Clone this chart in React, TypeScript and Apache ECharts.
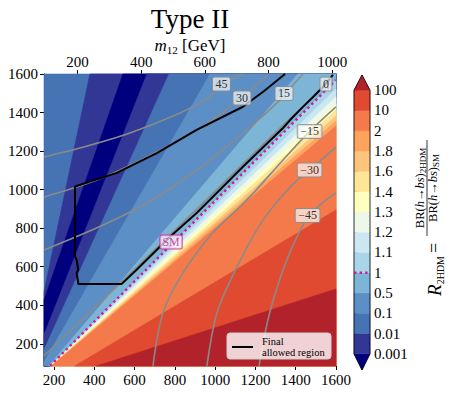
import React, { useEffect, useRef } from 'react';
import * as echarts from 'echarts';

const FONT = '"Liberation Serif", "DejaVu Serif", serif';

// plot ranges
const X_MIN = 150;
const X_MAX = 1600;
const Y_MIN = 85;
const Y_MAX = 1600;
const M12_SCALE = Math.sqrt(0.4); // m12 = m * sqrt(sinb cosb), tanb = 2

const xTicks = [200, 400, 600, 800, 1000, 1200, 1400, 1600];
const yTicks = [200, 400, 600, 800, 1000, 1200, 1400, 1600];
const m12Ticks = [200, 400, 600, 800, 1000];

// colour bar levels and band colours (under, 13 bands, over)
const levelLabels = ['0.001', '0.01', '0.1', '0.5', '1', '1.1', '1.2', '1.3', '1.4', '1.6', '1.8', '2', '10', '100'];
const bandColors = [
  '#00007f', '#323795', '#4573b3', '#5b8fc5', '#7db5d6', '#a8d5e7', '#cbe7f1', '#eef8ea',
  '#ffffbf', '#fee597', '#fdc47d', '#fca35e', '#f47a4b', '#e04a30', '#b2222a',
];

// contour boundaries (straight lines, each given by two points, ordered upper-left -> lower-right)
const boundaryFrom = [
  [150, 470], [150, 428], [150, 247], [150, 169], [150, 107], [135, 39], [135, 39], [135, 39],
  [135, 39], [135, 39], [135, 39], [135, 39], [135, 39], [135, 39], [304, 86], [413, 86],
];
const boundaryTo = [
  [378, 1600], [542, 1600], [661, 1600], [771, 1600], [974, 1600], [1411, 1600], [1600, 1569], [1600, 1522],
  [1600, 1481], [1600, 1444], [1600, 1413], [1600, 1382], [1600, 1356], [1600, 1330], [1600, 895], [1600, 485],
];
// band index of each region (region i lies below/right of boundary i-1)
const regionBand = [2, 1, 0, 1, 2, 3, 4, 5, 6, 7, 8, 9, 10, 11, 12, 13, 14];

// SM line (R = 1)
const smLine = [[180, 86], [1600, 1569]];
const smLabelPos = [781, 729];

// final allowed region boundary
const allowedRegion = [
  [1347, 1600], [1243, 1512], [1138, 1430], [908, 1310], [710, 1190], [511, 1087], [304, 1016],
  [304, 653], [312, 636], [320, 584], [312, 568], [320, 515], [319, 511], [536, 511], [610, 584],
  [776, 756], [908, 879], [1138, 1119], [1337, 1320], [1372, 1361], [1426, 1419], [1486, 1481],
  [1540, 1538], [1585, 1595],
];

// grey contour curves
const contour45 = [[150, 1170], [329, 1216], [577, 1294], [825, 1398], [974, 1481], [1031, 1548], [1084, 1574], [1138, 1600]];
const contour30 = [[150, 962], [413, 1050], [661, 1170], [910, 1310], [1074, 1429], [1133, 1476], [1203, 1543], [1262, 1600]];
const contour15 = [[150, 687], [413, 802], [661, 931], [910, 1102], [1158, 1310], [1307, 1450], [1347, 1496], [1387, 1543], [1436, 1600]];
const contour0 = [[150, 138], [443, 428], [925, 916], [1322, 1320], [1550, 1548], [1585, 1600]];
const contourM15 = [[691, 86], [741, 361], [840, 568], [989, 776], [1158, 947], [1337, 1154], [1469, 1302], [1600, 1429]];
const contourM30 = [[959, 86], [1009, 361], [1108, 599], [1238, 843], [1382, 1024], [1469, 1102], [1600, 1221]];
const contourM45 = [[1218, 86], [1262, 324], [1312, 506], [1372, 677], [1446, 833], [1521, 921], [1600, 983]];
const contourCurves = [contour45, contour30, contour15, contour0, contourM15, contourM30, contourM45];
const contourLabelText = ['45', '30', '15', '0', '\u221215', '\u221230', '\u221245'];
const contourLabelPos = [[1031, 1548], [1133, 1476], [1342, 1499], [1550, 1548], [1469, 1302], [1469, 1102], [1459, 866]];

const MAGENTA = '#d2189c';

function clipHalf(poly: number[][], a: number[], b: number[]): number[][] {
  const f = (p: number[]) => (b[0] - a[0]) * (p[1] - a[1]) - (b[1] - a[1]) * (p[0] - a[0]);
  const out: number[][] = [];
  for (let i = 0; i < poly.length; i++) {
    const p = poly[i];
    const q = poly[(i + 1) % poly.length];
    const fp = f(p);
    const fq = f(q);
    if (fp <= 0) out.push(p);
    if ((fp < 0 && fq > 0) || (fp > 0 && fq < 0)) {
      const t = fp / (fp - fq);
      out.push([p[0] + t * (q[0] - p[0]), p[1] + t * (q[1] - p[1])]);
    }
  }
  return out;
}

function buildOption(): any {
  const axisLineStyle = { color: '#000', width: 1 };
  const labelStyle = { color: '#000', fontFamily: FONT, fontSize: 15, formatter: (v: number) => String(v) };
  const cbIdx = levelLabels.map((_, i) => i);

  const series: any[] = [];

  series.push({
    type: 'custom',
    xAxisIndex: 0,
    yAxisIndex: 0,
    z: 1,
    silent: true,
    data: regionBand.map((b, i) => [X_MIN, Y_MIN, i, b]),
    encode: { x: 0, y: 1 },
    renderItem: (params: any, api: any) => {
      const i = params.dataIndex;
      let poly = [[X_MIN, Y_MIN], [X_MAX, Y_MIN], [X_MAX, Y_MAX], [X_MIN, Y_MAX]];
      if (i > 0) poly = clipHalf(poly, boundaryFrom[i - 1], boundaryTo[i - 1]);
      if (poly.length < 3) return null;
      const c = bandColors[regionBand[i]];
      return {
        type: 'polygon',
        shape: { points: poly.map((p) => api.coord(p)) },
        style: { fill: c, stroke: c, lineWidth: 0.6 },
      };
    },
  });

  contourCurves.forEach((curve) => {
    series.push({
      type: 'line',
      xAxisIndex: 0,
      yAxisIndex: 0,
      z: 2,
      silent: true,
      data: curve,
      smooth: 0.3,
      symbol: 'none',
      lineStyle: { color: '#8a8a8a', width: 1.6 },
    });
  });

  series.push({
    type: 'line',
    xAxisIndex: 0,
    yAxisIndex: 0,
    z: 3,
    silent: true,
    data: smLine,
    symbol: 'none',
    lineStyle: { color: MAGENTA, width: 2.4, type: [2.4, 3.2], cap: 'butt' },
  });

  series.push({
    type: 'line',
    xAxisIndex: 0,
    yAxisIndex: 0,
    z: 4,
    silent: true,
    data: allowedRegion,
    symbol: 'none',
    lineStyle: { color: '#000', width: 2 },
  });

  series.push({
    type: 'scatter',
    xAxisIndex: 0,
    yAxisIndex: 0,
    z: 5,
    silent: true,
    symbolSize: 1,
    itemStyle: { color: 'rgba(0,0,0,0)' },
    data: contourLabelPos.map((p, i) => ({ value: p, name: contourLabelText[i] })),
    label: {
      show: true,
      position: 'inside',
      formatter: '{b}',
      color: '#000',
      fontFamily: FONT,
      fontSize: 12,
      backgroundColor: 'rgba(255,255,255,0.82)',
      borderColor: '#8c8c8c',
      borderWidth: 1,
      borderRadius: 1.5,
      padding: [1, 2.5, 0, 2.5],
    },
  });

  series.push({
    type: 'scatter',
    xAxisIndex: 0,
    yAxisIndex: 0,
    z: 5,
    silent: true,
    symbolSize: 1,
    itemStyle: { color: 'rgba(0,0,0,0)' },
    data: [{ value: smLabelPos, name: 'SM' }],
    label: {
      show: true,
      position: 'inside',
      formatter: '{b}',
      color: MAGENTA,
      fontFamily: FONT,
      fontSize: 12,
      backgroundColor: 'rgba(255,255,255,0.85)',
      borderColor: MAGENTA,
      borderWidth: 1,
      borderRadius: 1.5,
      padding: [1, 2, 0, 2],
    },
  });

  // colour bar
  series.push({
    type: 'custom',
    xAxisIndex: 2,
    yAxisIndex: 2,
    z: 1,
    silent: true,
    data: bandColors.map((c, i) => [0.5, i]),
    encode: { x: 0, y: 1 },
    renderItem: (params: any, api: any) => {
      const i = params.dataIndex;
      const n = levelLabels.length - 1;
      let pts: number[][];
      if (i === 0) pts = [[0, 0], [1, 0], [0.5, -0.8]];
      else if (i === bandColors.length - 1) pts = [[0, n], [1, n], [0.5, n + 0.75]];
      else pts = [[0, i - 1], [1, i - 1], [1, i], [0, i]];
      const c = bandColors[i];
      return {
        type: 'polygon',
        shape: { points: pts.map((p) => api.coord(p)) },
        style: { fill: c, stroke: c, lineWidth: 0.5 },
      };
    },
  });
  series.push({
    type: 'custom',
    xAxisIndex: 2,
    yAxisIndex: 2,
    z: 3,
    silent: true,
    data: [[0.5, 0]],
    encode: { x: 0, y: 1 },
    renderItem: (params: any, api: any) => {
      const n = levelLabels.length - 1;
      const pts = [[0.5, -0.8], [1, 0], [1, n], [0.5, n + 0.75], [0, n], [0, 0]];
      return {
        type: 'polygon',
        shape: { points: pts.map((p) => api.coord(p)) },
        style: { fill: 'none', stroke: '#000', lineWidth: 0.8 },
      };
    },
  });
  series.push({
    type: 'line',
    xAxisIndex: 2,
    yAxisIndex: 2,
    z: 4,
    silent: true,
    data: [[0, levelLabels.indexOf('1')], [1, levelLabels.indexOf('1')]],
    symbol: 'none',
    lineStyle: { color: MAGENTA, width: 2.4, type: [2.4, 3.2], cap: 'butt' },
  });

  const richMain = (size: number, italic = false) => ({
    fontSize: size,
    fontFamily: FONT,
    fontStyle: italic ? 'italic' : 'normal',
    lineHeight: size + 3,
    verticalAlign: 'middle',
    color: '#000',
  });
  const richSub = (size: number, drop: number) => ({
    fontSize: size,
    fontFamily: FONT,
    lineHeight: drop,
    verticalAlign: 'bottom',
    color: '#000',
  });

  const graphic: any[] = [
    {
      type: 'text',
      x: 190,
      y: 19,
      z: 100,
      style: {
        text: 'Type II',
        fontSize: 27,
        fontFamily: FONT,
        fill: '#000',
        align: 'center',
        verticalAlign: 'middle',
      },
    },
    {
      type: 'text',
      x: 190,
      y: 45,
      z: 100,
      style: {
        text: '{i|m}{s|12}{n| [GeV]}',
        align: 'center',
        verticalAlign: 'middle',
        rich: { i: richMain(17, true), s: richSub(11, 7), n: richMain(17) },
      },
    },
    {
      type: 'group',
      x: 434,
      y: 248,
      rotation: Math.PI / 2,
      children: [
        {
          type: 'text',
          x: -8,
          y: 0,
          z: 100,
          style: {
            text: '{r|R}{s|2HDM}',
            align: 'right',
            verticalAlign: 'middle',
            rich: { r: richMain(19, true), s: richSub(10, 8) },
          },
        },
        {
          type: 'text',
          x: 0,
          y: 0,
          z: 100,
          style: { text: '=', fontSize: 18, fontFamily: FONT, fill: '#000', align: 'center', verticalAlign: 'middle' },
        },
        {
          type: 'line',
          z: 100,
          shape: { x1: 12, y1: -7, x2: 108, y2: -7 },
          style: { stroke: '#000', lineWidth: 0.8 },
        },
        {
          type: 'text',
          x: 60,
          y: -14,
          z: 100,
          style: {
            text: '{a|BR(}{i|h}{a|\u2192}{i|bs}{a|)}{s|2HDM}',
            align: 'center',
            verticalAlign: 'middle',
            rich: { a: richMain(12.5), i: richMain(12.5, true), s: richSub(9, 6) },
          },
        },
        {
          type: 'text',
          x: 60,
          y: -1,
          z: 100,
          style: {
            text: '{a|BR(}{i|h}{a|\u2192}{i|bs}{a|)}{s|SM}',
            align: 'center',
            verticalAlign: 'middle',
            rich: { a: richMain(12.5), i: richMain(12.5, true), s: richSub(9, 6) },
          },
        },
      ],
    },
    {
      type: 'rect',
      z: 100,
      shape: { x: 227, y: 333, width: 104, height: 26, r: 3 },
      style: { fill: 'rgba(255,255,255,0.8)', stroke: '#cfcfcf', lineWidth: 1 },
    },
    {
      type: 'line',
      z: 101,
      shape: { x1: 232, y1: 347, x2: 253, y2: 347 },
      style: { stroke: '#000', lineWidth: 2 },
    },
    {
      type: 'text',
      x: 262,
      y: 341,
      z: 101,
      style: { text: 'Final', fontSize: 10.5, fontFamily: FONT, fill: '#000', align: 'left', verticalAlign: 'middle' },
    },
    {
      type: 'text',
      x: 262,
      y: 352,
      z: 101,
      style: { text: 'allowed region', fontSize: 10.5, fontFamily: FONT, fill: '#000', align: 'left', verticalAlign: 'middle' },
    },
  ];

  return {
    animation: false,
    backgroundColor: '#fff',
    grid: [
      { left: 44, top: 74, width: 292, height: 292, show: false },
      { left: 354, top: 75, width: 16, height: 295, show: false },
    ],
    xAxis: [
      {
        gridIndex: 0,
        type: 'value',
        position: 'bottom',
        min: X_MIN,
        max: X_MAX,
        axisLine: { show: true, onZero: false, lineStyle: axisLineStyle },
        axisTick: { show: true, customValues: xTicks, length: 4, lineStyle: axisLineStyle },
        axisLabel: { ...labelStyle, customValues: xTicks, margin: 6 },
        splitLine: { show: false },
      },
      {
        gridIndex: 0,
        type: 'value',
        position: 'top',
        min: X_MIN * M12_SCALE,
        max: X_MAX * M12_SCALE,
        axisLine: { show: true, onZero: false, lineStyle: axisLineStyle },
        axisTick: { show: true, customValues: m12Ticks, length: 4, lineStyle: axisLineStyle },
        axisLabel: { ...labelStyle, customValues: m12Ticks, margin: 5 },
        splitLine: { show: false },
      },
      { gridIndex: 1, type: 'value', min: 0, max: 1, show: false },
    ],
    yAxis: [
      {
        gridIndex: 0,
        type: 'value',
        position: 'left',
        min: Y_MIN,
        max: Y_MAX,
        axisLine: { show: true, onZero: false, lineStyle: axisLineStyle },
        axisTick: { show: true, customValues: yTicks, length: 4, lineStyle: axisLineStyle },
        axisLabel: { ...labelStyle, customValues: yTicks, margin: 6 },
        splitLine: { show: false },
      },
      {
        gridIndex: 0,
        type: 'value',
        position: 'right',
        min: Y_MIN,
        max: Y_MAX,
        axisLine: { show: true, onZero: false, lineStyle: axisLineStyle },
        axisTick: { show: false },
        axisLabel: { show: false },
        splitLine: { show: false },
      },
      {
        gridIndex: 1,
        type: 'value',
        position: 'right',
        min: -0.8,
        max: levelLabels.length - 1 + 0.75,
        axisLine: { show: false },
        axisTick: { show: true, customValues: cbIdx, length: 3.5, lineStyle: axisLineStyle },
        axisLabel: {
          ...labelStyle,
          customValues: cbIdx,
          margin: 4,
          formatter: (v: number) => levelLabels[Math.round(v)] ?? '',
        },
        splitLine: { show: false },
      },
    ],
    series,
    graphic,
  };
}

export default function App() {
  const ref = useRef<HTMLDivElement>(null);
  useEffect(() => {
    if (!ref.current) return;
    const chart = echarts.init(ref.current, undefined, { renderer: 'svg' });
    chart.setOption(buildOption());
    return () => chart.dispose();
  }, []);
  return (
    <div
      ref={ref}
      style={{ position: 'fixed', left: 0, top: 0, width: 449, height: 395, background: '#fff' }}
    />
  );
}
